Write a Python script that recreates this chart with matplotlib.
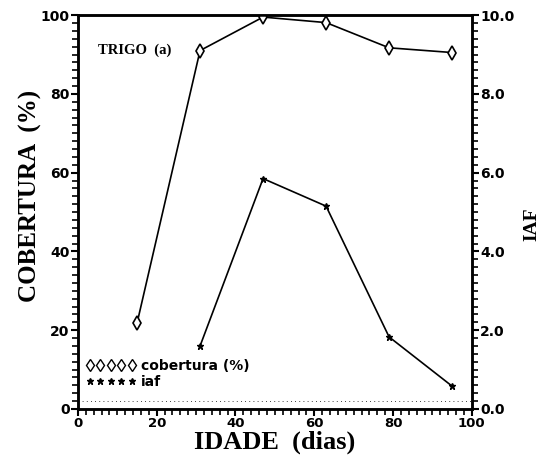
import matplotlib.pyplot as plt
from matplotlib.ticker import MultipleLocator
from matplotlib.lines import Line2D

# idade (dias)
idade_cob = [15, 31, 47, 63, 79, 95]
cobertura = [21.8, 91.0, 99.5, 98.1, 91.7, 90.5]
idade_iaf = [31, 47, 63, 79, 95]
iaf = [1.6, 5.85, 5.15, 1.83, 0.58]


def main():
    fig = plt.figure(figsize=(5.57, 4.58), dpi=100)
    ax = fig.add_axes([0.140, 0.107, 0.707, 0.860])
    ax2 = ax.twinx()

    ax.plot(idade_cob, cobertura, color='black', lw=1.2, marker='d',
            mfc='white', mec='black', ms=7, mew=1.2, zorder=3)
    ax2.plot(idade_iaf, iaf, color='black', lw=1.2, marker='*',
             mfc='black', mec='black', ms=5, zorder=3)

    ax.set_xlim(0, 100)
    ax.set_ylim(0, 100)
    ax2.set_ylim(0, 10)

    # dotted line near the bottom (as in the scanned plot)
    ax.axhline(2, color='black', lw=0.6, ls=(0, (1, 4)))

    ax.xaxis.set_major_locator(MultipleLocator(20))
    ax.xaxis.set_minor_locator(MultipleLocator(2))
    ax.yaxis.set_major_locator(MultipleLocator(20))
    ax.yaxis.set_minor_locator(MultipleLocator(2))
    ax2.yaxis.set_major_locator(MultipleLocator(2))
    ax2.yaxis.set_minor_locator(MultipleLocator(0.2))

    ax.tick_params(which='major', direction='out', length=5, width=1.5,
                   labelsize=10, pad=1)
    ax.tick_params(axis='x', which='major', labelsize=9.5, pad=0.5)
    ax.tick_params(which='minor', direction='out', length=4, width=1.2)
    ax.tick_params(axis='x', top=False, which='both')
    ax2.tick_params(which='major', direction='out', length=5, width=1.5,
                    labelsize=10, pad=1)
    ax2.tick_params(which='minor', direction='out', length=4, width=1.2)

    for a in (ax, ax2):
        for s in a.spines.values():
            s.set_linewidth(1.8)
        for lab in a.get_xticklabels() + a.get_yticklabels():
            lab.set_fontweight('bold')
    ax2.set_yticks([0, 2, 4, 6, 8, 10])
    ax2.set_yticklabels(['%.1f' % v for v in [0, 2, 4, 6, 8, 10]],
                        fontweight='bold', fontsize=10)

    serif = {'family': 'Liberation Serif', 'weight': 'bold'}
    ax.set_xlabel('IDADE  (dias)', fontdict=serif, fontsize=19)
    ax.xaxis.set_label_coords(0.5, -0.054)
    ax.set_ylabel('COBERTURA  (%)', fontdict=serif, fontsize=18)
    ax.yaxis.set_label_coords(-0.092, 0.54)
    ax2.set_ylabel('IAF', fontdict=serif, fontsize=14, rotation=90)
    ax2.yaxis.set_label_coords(1.132, 0.47)

    ax.text(5, 91, 'TRIGO  (a)', fontdict=serif, fontsize=10.5, va='center')

    handles = [
        Line2D([], [], ls='none', marker='d', mfc='white', mec='black',
               ms=6, mew=1.0),
        Line2D([], [], ls='none', marker='*', mfc='black', mec='black',
               ms=5),
    ]
    ax.legend(handles, ['cobertura (%)', 'iaf'], loc='lower left',
              bbox_to_anchor=(-0.005, 0.027), frameon=False, numpoints=5,
              handlelength=3.6, handletextpad=0.4, labelspacing=0.15,
              borderpad=0.2, prop={'weight': 'bold', 'size': 10})

    plt.savefig('out.png', dpi=100)


if __name__ == '__main__':
    main()
